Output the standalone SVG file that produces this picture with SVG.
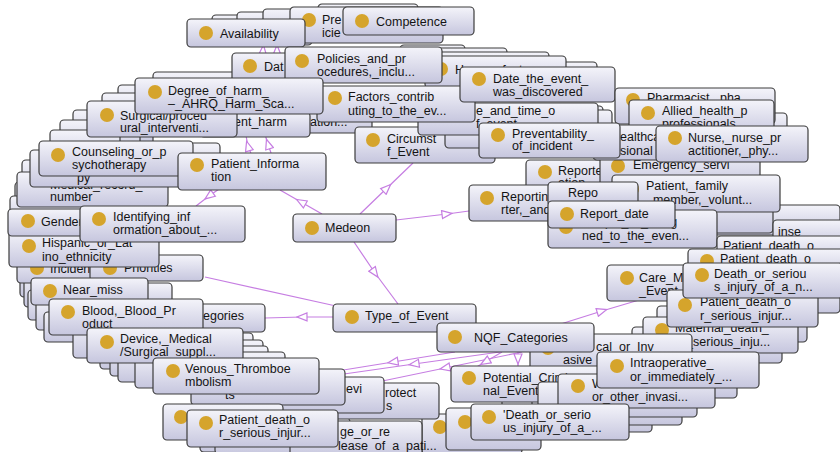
<svg xmlns="http://www.w3.org/2000/svg" width="840" height="452" viewBox="0 0 840 452">
<defs>
<linearGradient id="g" x1="0" y1="0" x2="0" y2="1"><stop offset="0" stop-color="#f4f4fa"/><stop offset="1" stop-color="#c6c6de"/></linearGradient>
<marker id="a" viewBox="0 0 12 10" refX="6" refY="5" markerWidth="12" markerHeight="10" orient="auto" markerUnits="userSpaceOnUse"><path d="M1,1 L11,5 L1,9 Z" fill="#fff" stroke="#c67ee2" stroke-width="1.2"/></marker>
</defs>
<style>
.b{fill:url(#g);stroke:#3d3d3d;stroke-width:1.2}
.c{fill:#d5a42c}
text{font-family:"Liberation Sans",Arial,sans-serif;font-size:12.5px;fill:#141414}
.e{fill:none;stroke:#c67ee2;stroke-width:1.2;marker-mid:url(#a)}
.l{fill:none;stroke:#c67ee2;stroke-width:1.2}
</style>
<rect width="840" height="452" fill="#fff"/>
<g id="connectors">
<path class="e" d="M322,214 L301,202 L280,190"/>
<path class="e" d="M360,214 L387,188 L413,163"/>
<path class="e" d="M396,220 L447,214 L469,211"/>
<path class="e" d="M354,242 L375,273 L398,304"/>
<path class="e" d="M333,317 L302,317 L265,318"/>
<path class="l" d="M336,306 L205,277"/>
<path class="e" d="M455,352 L393,362 L331,372"/>
<path class="e" d="M500,352 L414,364 L330,376"/>
<path class="e" d="M522,352 L445,368 L368,384"/>
<path class="e" d="M502,352 L485,362 L468,372"/>
<path class="e" d="M518,352 L518,359 L518,368"/>
<path class="e" d="M548,328 L602,311 L656,295"/>
<path class="e" d="M222,187 L209,196 L196,206"/>
<path class="e" d="M252,156 L248,146 L244,125"/>
<path class="e" d="M272,156 L268,144 L262,125"/>
<path class="e" d="M262,62 L263,50 L264,38"/>
<path class="e" d="M277,62 L277,50 L277,38"/>
</g>
<g id="hidden-nodes">
<rect class="b" x="212" y="15" width="100" height="30" rx="4"/>
<rect class="b" x="237" y="12" width="80" height="30" rx="4"/>
<rect class="b" x="263" y="9" width="70" height="30" rx="4"/>
<rect class="b" x="318" y="4" width="100" height="30" rx="4"/>
<rect class="b" x="400" y="45" width="65" height="30" rx="4"/>
<rect class="b" x="410" y="48" width="97" height="30" rx="4"/>
<rect class="b" x="420" y="52" width="129" height="30" rx="4"/>
<rect class="b" x="450" y="62" width="147" height="30" rx="4"/>
<rect class="b" x="153" y="72" width="120" height="36" rx="4"/>
<rect class="b" x="118" y="85" width="100" height="36" rx="4"/>
<rect class="b" x="102" y="93" width="90" height="36" rx="4"/>
<rect class="b" x="73" y="110" width="80" height="36" rx="4"/>
<rect class="b" x="60" y="120" width="80" height="36" rx="4"/>
<rect class="b" x="50" y="130" width="70" height="36" rx="4"/>
<rect class="b" x="150" y="143" width="70" height="40" rx="4"/>
<rect class="b" x="22" y="160" width="140" height="36" rx="4"/>
<rect class="b" x="15" y="182" width="120" height="36" rx="4"/>
<rect class="b" x="10" y="196" width="100" height="30" rx="4"/>
<rect class="b" x="20" y="262" width="90" height="35" rx="4"/>
<rect class="b" x="24" y="272" width="90" height="35" rx="4"/>
<rect class="b" x="28" y="290" width="100" height="30" rx="4"/>
<rect class="b" x="36" y="300" width="100" height="30" rx="4"/>
<rect class="b" x="44" y="312" width="100" height="30" rx="4"/>
<rect class="b" x="73" y="322" width="120" height="36" rx="4"/>
<rect class="b" x="100" y="333" width="153" height="36" rx="4"/>
<rect class="b" x="110" y="340" width="153" height="36" rx="4"/>
<rect class="b" x="118" y="346" width="150" height="36" rx="4"/>
<rect class="b" x="135" y="352" width="150" height="36" rx="4"/>
<rect class="b" x="200" y="418" width="150" height="34" rx="4"/>
<rect class="b" x="215" y="424" width="150" height="30" rx="4"/>
<rect class="b" x="502" y="396" width="150" height="36" rx="4"/>
<rect class="b" x="532" y="389" width="150" height="36" rx="4"/>
<rect class="b" x="547" y="381" width="150" height="36" rx="4"/>
<rect class="b" x="587" y="362" width="150" height="36" rx="4"/>
<rect class="b" x="632" y="327" width="150" height="36" rx="4"/>
<rect class="b" x="657" y="306" width="150" height="36" rx="4"/>
<rect class="b" x="780" y="285" width="60" height="28" rx="4"/>
<rect class="b" x="700" y="205" width="140" height="30" rx="4"/>
<rect class="b" x="700" y="113" width="87" height="30" rx="4"/>
<rect class="b" x="480" y="106" width="123" height="30" rx="4"/>
<rect class="b" x="490" y="110" width="122" height="30" rx="4"/>
</g>
<g id="n-pre"><rect class="b" x="290" y="7" width="153" height="36" rx="4"/><circle class="c" cx="309" cy="20" r="7"/><text x="322" y="24">Pre</text><text x="322" y="37">icie</text></g>
<g id="n-availability"><rect class="b" x="187" y="19" width="118" height="28" rx="4"/><circle class="c" cx="206" cy="33" r="7"/><text x="220" y="37.5">Availability</text></g>
<g id="n-competence"><rect class="b" x="343" y="7" width="131" height="28" rx="4"/><circle class="c" cx="362" cy="21" r="7"/><text x="376" y="25.5">Competence</text></g>
<g id="n-human"><rect class="b" x="425" y="56" width="141" height="32" rx="4"/><circle class="c" cx="441" cy="69" r="7"/><text x="455" y="73.5">Human_factors</text></g>
<g id="n-dat"><rect class="b" x="232" y="53" width="80" height="30" rx="4"/><circle class="c" cx="250" cy="66" r="7"/><text x="264" y="70.5">Dat</text></g>
<g id="n-policies"><rect class="b" x="285" y="47" width="157" height="36" rx="4"/><circle class="c" cx="302" cy="61" r="7"/><text x="317" y="62.5">Policies_and_pr</text><text x="317" y="76">ocedures,_inclu...</text></g>
<g id="n-ation"><rect class="b" x="300" y="106" width="72" height="27" rx="4"/><text x="310" y="126">ation...</text></g>
<g id="n-entharm"><rect class="b" x="200" y="112" width="110" height="25" rx="4"/><text x="234" y="126">ent_harm</text></g>
<g id="n-surgical"><rect class="b" x="87" y="101" width="150" height="36" rx="4"/><circle class="c" cx="107" cy="115" r="7"/><text x="120" y="119.5">Surgical/proced</text><text x="120" y="131.5">ural_interventi...</text></g>
<g id="n-circumstances"><rect class="b" x="355" y="127" width="140" height="36" rx="4"/><circle class="c" cx="373" cy="140" r="7"/><text x="387" y="143">Circumst</text><text x="387" y="156">f_Event</text></g>
<g id="n-hidden443"><rect class="b" x="445" y="125" width="150" height="23" rx="4"/></g>
<g id="n-etime"><rect class="b" x="418" y="103" width="180" height="32" rx="4"/><text x="476" y="114.5">e_and_time_o</text><text x="476" y="127.5">f_event</text></g>
<g id="n-factors"><rect class="b" x="317" y="86" width="158" height="36" rx="4"/><circle class="c" cx="335" cy="98" r="7"/><text x="348" y="101">Factors_contrib</text><text x="348" y="114.5">uting_to_the_ev...</text></g>
<g id="n-degree"><rect class="b" x="135" y="78" width="188" height="36" rx="4"/><circle class="c" cx="155" cy="92" r="7"/><text x="168" y="95">Degree_of_harm_</text><text x="168" y="108">–_AHRQ_Harm_Sca...</text></g>
<g id="n-datedisc"><rect class="b" x="460" y="67" width="155" height="35" rx="4"/><circle class="c" cx="479" cy="79" r="7"/><text x="493" y="83">Date_the_event_</text><text x="493" y="96">was_discovered</text></g>
<g id="n-reporte"><rect class="b" x="526" y="160" width="85" height="35" rx="4"/><circle class="c" cx="545" cy="172" r="7"/><text x="558" y="174.5">Reporte</text><text x="558" y="187">ation</text></g>
<g id="n-pharm"><rect class="b" x="615" y="88" width="160" height="36" rx="4"/><circle class="c" cx="633" cy="100" r="7"/><text x="647" y="101.5">Pharmacist,_pha</text></g>
<g id="n-allied"><rect class="b" x="629" y="100" width="145" height="36" rx="4"/><circle class="c" cx="648" cy="113" r="7"/><text x="662" y="114.5">Allied_health_p</text><text x="662" y="128">professionals</text></g>
<g id="n-emerg"><rect class="b" x="600" y="149" width="160" height="38" rx="4"/><circle class="c" cx="618" cy="166" r="7"/><text x="633" y="169">Emergency_servi</text></g>
<g id="n-health"><rect class="b" x="593" y="125" width="110" height="35" rx="4"/><text x="620" y="141">ealthca</text><text x="620" y="154.5">sional</text></g>
<g id="n-prevent"><rect class="b" x="479" y="123" width="141" height="35" rx="4"/><circle class="c" cx="498" cy="135" r="7"/><text x="512" y="137.5">Preventability_</text><text x="512" y="150">of_incident</text></g>
<g id="n-nurse"><rect class="b" x="656" y="126" width="152" height="36" rx="4"/><circle class="c" cx="675" cy="138" r="7"/><text x="688" y="141.5">Nurse,_nurse_pr</text><text x="688" y="155">actitioner,_phy...</text></g>
<g id="n-hiddenfam"><rect class="b" x="640" y="195" width="133" height="38" rx="4"/></g>
<g id="n-family"><rect class="b" x="612" y="175" width="168" height="37" rx="4"/><circle class="c" cx="632" cy="189" r="7"/><text x="646" y="190">Patient,_family</text><text x="646" y="204">_member,_volunt...</text></g>
<g id="n-reporting"><rect class="b" x="469" y="185" width="150" height="36" rx="4"/><circle class="c" cx="487" cy="198" r="7"/><text x="501" y="201">Reporting_Repo</text><text x="501" y="214">rter,_and...</text></g>
<g id="n-repo"><rect class="b" x="548" y="182" width="90" height="24" rx="4"/><text x="568" y="197">Repo</text></g>
<g id="n-unique"><rect class="b" x="548" y="210" width="169" height="38" rx="4"/><circle class="c" cx="566" cy="227" r="7"/><text x="582" y="226">Unique_ID_assig</text><text x="582" y="240">ned_to_the_even...</text></g>
<g id="n-repdate"><rect class="b" x="548" y="201" width="127" height="27" rx="4"/><circle class="c" cx="567" cy="214" r="7"/><text x="580" y="218">Report_date</text></g>
<g id="n-inse"><rect class="b" x="773" y="220" width="80" height="26" rx="4"/><text x="778" y="236">inse</text></g>
<g id="n-pd1"><rect class="b" x="717" y="236" width="130" height="30" rx="4"/><text x="723" y="250">Patient_death_o</text></g>
<g id="n-pd2"><rect class="b" x="688" y="249" width="160" height="30" rx="4"/><circle class="c" cx="707" cy="261" r="7"/><text x="720" y="263">Patient_death_o</text></g>
<g id="n-care"><rect class="b" x="607" y="265" width="100" height="36" rx="4"/><circle class="c" cx="627" cy="278" r="7"/><text x="639" y="282">Care_M</text><text x="639" y="295">_Event</text></g>
<g id="n-maternal"><rect class="b" x="643" y="317" width="155" height="36" rx="4"/><circle class="c" cx="662" cy="330" r="7"/><text x="675" y="332">Maternal_death_</text><text x="675" y="346">or_serious_inju...</text></g>
<g id="n-pdrs"><rect class="b" x="667" y="290" width="151" height="37" rx="4"/><circle class="c" cx="685" cy="305" r="7"/><text x="700" y="306">Patient_death_o</text><text x="700" y="319.5">r_serious_injur...</text></g>
<g id="n-death1"><rect class="b" x="683" y="263" width="160" height="35" rx="4"/><circle class="c" cx="702" cy="275" r="7"/><text x="714" y="278">Death_or_seriou</text><text x="714" y="291">s_injury_of_a_n...</text></g>
<g id="n-medeon"><rect class="b" x="293" y="214" width="103" height="28" rx="4"/><circle class="c" cx="312" cy="228" r="7"/><text x="325" y="232">Medeon</text></g>
<g id="n-typeevent"><rect class="b" x="333" y="304" width="143" height="28" rx="4"/><circle class="c" cx="352" cy="317" r="7"/><text x="365" y="320">Type_of_Event</text></g>
<g id="n-surgical2"><rect class="b" x="530" y="334" width="162" height="39" rx="4"/><circle class="c" cx="548" cy="348" r="7"/><text x="596" y="350.5">cal_or_Inv</text><text x="563" y="363.5">asive_</text></g>
<g id="n-nqf"><rect class="b" x="437" y="323" width="157" height="29" rx="4"/><circle class="c" cx="455" cy="337" r="7"/><text x="474" y="341.5">NQF_Categories</text></g>
<g id="n-potential"><rect class="b" x="451" y="366" width="150" height="36" rx="4"/><circle class="c" cx="469" cy="378" r="7"/><text x="483" y="381.5">Potential_Crimi</text><text x="483" y="394.5">nal_Event</text></g>
<g id="n-hidden538"><rect class="b" x="538" y="382" width="62" height="38" rx="4"/></g>
<g id="n-wrong"><rect class="b" x="558" y="374" width="157" height="34" rx="4"/><circle class="c" cx="578" cy="386" r="7"/><text x="592" y="388">W</text><text x="592" y="401">or_other_invasi...</text></g>
<g id="n-intra"><rect class="b" x="597" y="352" width="162" height="36" rx="4"/><circle class="c" cx="617" cy="366" r="7"/><text x="630" y="367">Intraoperative_</text><text x="630" y="381">or_immediately_...</text></g>
<g id="n-hiddenb1"><rect class="b" x="422" y="414" width="100" height="40" rx="4"/><circle class="c" cx="440" cy="427" r="7"/></g>
<g id="n-hiddenb2"><rect class="b" x="446" y="408" width="95" height="42" rx="4"/><circle class="c" cx="465" cy="422" r="7"/></g>
<g id="n-death2"><rect class="b" x="471" y="404" width="158" height="36" rx="4"/><circle class="c" cx="489" cy="417" r="7"/><text x="503" y="419">'Death_or_serio</text><text x="503" y="432">us_injury_of_a_...</text></g>
<g id="n-medrec"><rect class="b" x="17" y="172" width="151" height="35" rx="4"/><text x="50" y="188.5">Medical_record_</text><text x="50" y="201">number</text></g>
<g id="n-py"><rect class="b" x="30" y="150" width="155" height="37" rx="4"/><text x="77" y="182">py</text></g>
<g id="n-counsel"><rect class="b" x="39" y="141" width="154" height="35" rx="4"/><circle class="c" cx="58" cy="155" r="7"/><text x="72" y="155.5">Counseling_or_p</text><text x="72" y="168.5">sychotherapy</text></g>
<g id="n-patinfo"><rect class="b" x="178" y="153" width="148" height="37" rx="4"/><circle class="c" cx="197" cy="165" r="7"/><text x="211" y="168">Patient_Informa</text><text x="211" y="181">tion</text></g>
<g id="n-incident"><rect class="b" x="17" y="254" width="85" height="29" rx="4"/><circle class="c" cx="37" cy="268" r="7"/><text x="50" y="273">Incident</text></g>
<g id="n-prior"><rect class="b" x="90" y="255" width="113" height="26" rx="4"/><circle class="c" cx="110" cy="268" r="7"/><text x="124" y="272">Priorities</text></g>
<g id="n-hispanic"><rect class="b" x="9" y="231" width="150" height="36" rx="4"/><circle class="c" cx="29" cy="246" r="7"/><text x="42" y="247">Hispanic_or_Lat</text><text x="42" y="260.5">ino_ethnicity</text></g>
<g id="n-gender"><rect class="b" x="8" y="209" width="80" height="27" rx="4"/><circle class="c" cx="28" cy="221" r="7"/><text x="41" y="225.5">Gender</text></g>
<g id="n-ident"><rect class="b" x="80" y="206" width="165" height="36" rx="4"/><circle class="c" cx="99" cy="219" r="7"/><text x="113" y="220.5">Identifying_inf</text><text x="113" y="233.5">ormation_about_...</text></g>
<g id="n-nearback"><rect class="b" x="60" y="283" width="112" height="27" rx="4"/></g>
<g id="n-nearmiss"><rect class="b" x="31" y="278" width="117" height="27" rx="4"/><circle class="c" cx="50" cy="291" r="7"/><text x="63" y="293.5">Near_miss</text></g>
<g id="n-categ"><rect class="b" x="150" y="304" width="115" height="28" rx="4"/><text x="203" y="319.5">egories</text></g>
<g id="n-blood"><rect class="b" x="49" y="299" width="154" height="36" rx="4"/><circle class="c" cx="68" cy="312" r="7"/><text x="82" y="314.5">Blood,_Blood_Pr</text><text x="82" y="327.5">oduct</text></g>
<g id="n-device"><rect class="b" x="87" y="328" width="156" height="35" rx="4"/><circle class="c" cx="107" cy="342" r="7"/><text x="120" y="343">Device,_Medical</text><text x="120" y="356">/Surgical_suppl...</text></g>
<g id="n-protect"><rect class="b" x="310" y="383" width="129" height="36" rx="4"/><text x="385" y="397">rotect</text><text x="386" y="410">s</text></g>
<g id="n-prod"><rect class="b" x="232" y="377" width="152" height="36" rx="4"/><text x="346" y="393">evi</text></g>
<g id="n-boxa"><rect class="b" x="191" y="369" width="154" height="36" rx="4"/><text x="225" y="399">ts</text></g>
<g id="n-venous"><rect class="b" x="153" y="358" width="166" height="36" rx="4"/><circle class="c" cx="173" cy="371" r="7"/><text x="185" y="373">Venous_Thromboe</text><text x="185" y="386">mbolism</text></g>
<g id="n-hiddenb3"><rect class="b" x="163" y="404" width="120" height="36" rx="4"/><circle class="c" cx="181" cy="417" r="7"/></g>
<g id="n-discharge"><rect class="b" x="290" y="421" width="132" height="36" rx="4"/><text x="340" y="436">ge_or_re</text><text x="338" y="450">lease_of_a_pati...</text></g>
<g id="n-pdbl"><rect class="b" x="187" y="410" width="151" height="37" rx="4"/><circle class="c" cx="206" cy="423" r="7"/><text x="219" y="424">Patient_death_o</text><text x="219" y="437">r_serious_injur...</text></g>
</svg>
